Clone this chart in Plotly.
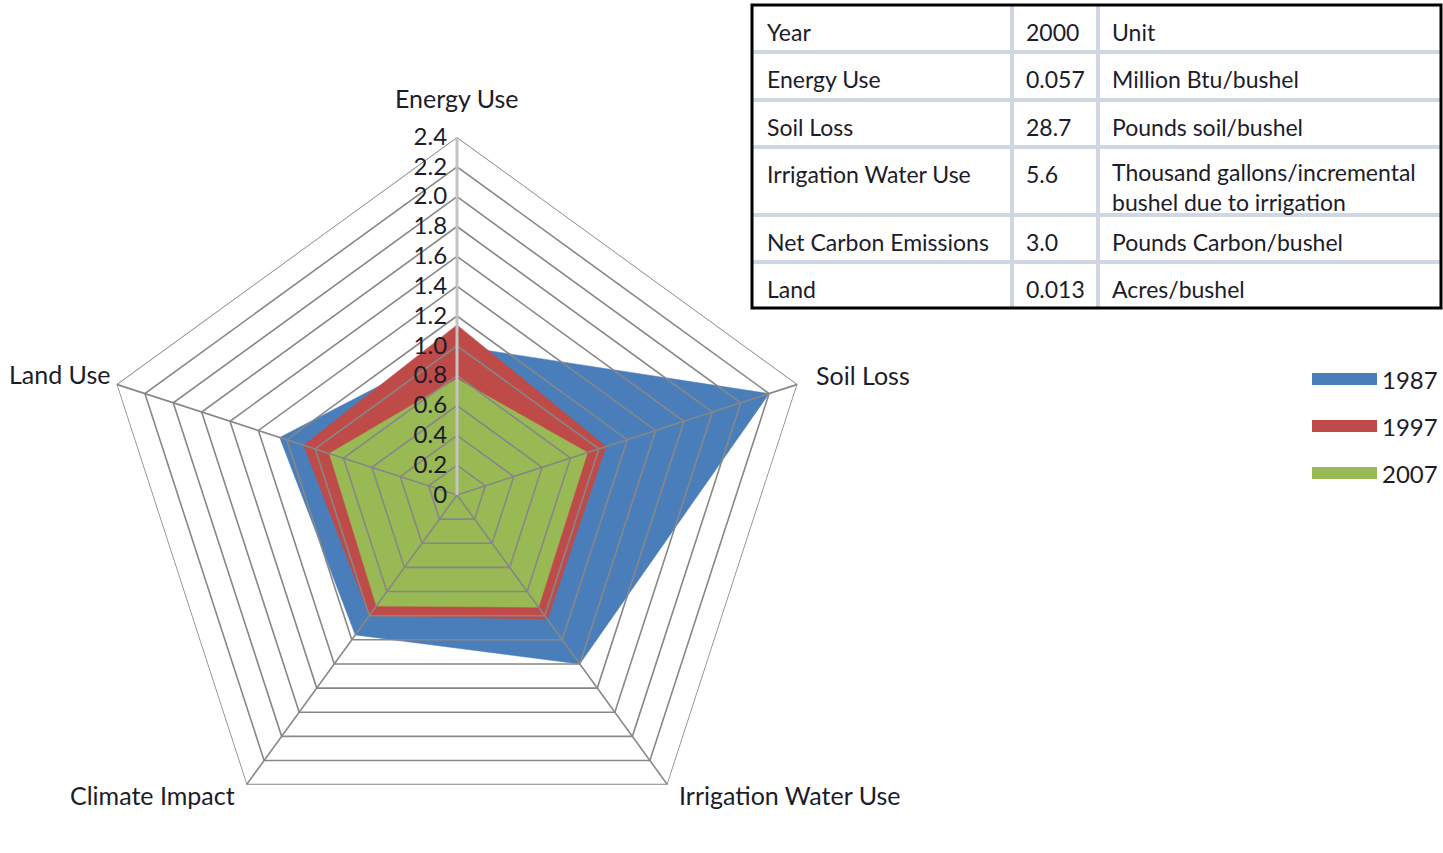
import math
import plotly.graph_objects as go

# Radar axes and series (index relative to year 2000 = 1.0)
categories = ["Energy Use", "Soil Loss", "Irrigation Water Use", "Climate Impact", "Land Use"]
years = ["1987", "1997", "2007"]
values_1987 = [1.00, 2.20, 1.40, 1.16, 1.25]
values_1997 = [1.14, 1.05, 1.03, 1.00, 1.08]
values_2007 = [0.78, 0.92, 0.93, 0.92, 0.90]
series = [values_1987, values_1997, values_2007]
colors = ["#4A7EBB", "#BE4B48", "#98B954"]

radial_ticks = [0, 0.2, 0.4, 0.6, 0.8, 1.0, 1.2, 1.4, 1.6, 1.8, 2.0, 2.2, 2.4]
radial_tick_text = ["0", "0.2", "0.4", "0.6", "0.8", "1.0", "1.2", "1.4",
                    "1.6", "1.8", "2.0", "2.2", "2.4"]

# Reference-year table (first row is the heading)
table_indicator = ["Year", "Energy Use", "Soil Loss", "Irrigation Water Use",
                   "Net Carbon Emissions", "Land"]
table_value = ["2000", "0.057", "28.7", "5.6", "3.0", "0.013"]
table_unit = ["Unit", "Million Btu/bushel", "Pounds soil/bushel",
              "Thousand gallons/incremental<br>bushel due to irrigation",
              "Pounds Carbon/bushel", "Acres/bushel"]

W, H = 1443, 853
FONT = "Lato"
TEXT = "#1c1c2a"
GRID = "#878787"

fig = go.Figure()

# filled polygons, largest first so smaller ones sit on top
for name, vals, col in zip(years, series, colors):
    fig.add_trace(go.Scatterpolar(
        r=vals + vals[:1], theta=categories + categories[:1],
        mode="lines", fill="toself", fillcolor=col,
        line=dict(color=col, width=0.5),
        name=name, showlegend=False, hoverinfo="skip",
    ))

# web grid drawn over the fills: one ring per radial tick, one spoke per category
ring_r, ring_t = [], []
for t in radial_ticks[1:]:
    ring_r += [t] * (len(categories) + 1) + [None]
    ring_t += categories + categories[:1] + [None]
spoke_r, spoke_t = [], []
for c in categories:
    spoke_r += [0, radial_ticks[-1], None]
    spoke_t += [c, c, None]
fig.add_trace(go.Scatterpolar(r=ring_r, theta=ring_t, mode="lines",
                              line=dict(color=GRID, width=1.6),
                              showlegend=False, hoverinfo="skip"))
fig.add_trace(go.Scatterpolar(r=spoke_r, theta=spoke_t, mode="lines",
                              line=dict(color=GRID, width=1.6),
                              showlegend=False, hoverinfo="skip"))

# polar placement in pixels (centre and outer radius)
R = 358
cx, cy = 457, 495

shapes = []
annotations = []

# category labels placed just outside each outer vertex
label_offsets = [(0, -39, "center"), (17, -9, "left"), (10, 10, "left"),
                 (-10, 10, "right"), (-5, -10, "right")]
for k, (cat, (dx, dy, anchor)) in enumerate(zip(categories, label_offsets)):
    ang = math.radians(90 - 72 * k)
    vx = cx + R * math.cos(ang)
    vy = cy - R * math.sin(ang)
    annotations.append(dict(
        x=(vx + dx) / W, y=1 - (vy + dy) / H, xref="paper", yref="paper",
        xanchor=anchor, yanchor="middle", text=cat, showarrow=False,
        font=dict(family=FONT, size=25, color=TEXT)))

# table drawn as ruled boxes with text
row_edges = [5, 52, 100, 147, 215, 262, 308]
col_edges = [752, 1012, 1098, 1441]
col_text_x = [765, 1024, 1110]
RULE = "#cfd6e4"
for y in row_edges[1:-1]:
    shapes.append(dict(type="line", xref="paper", yref="paper",
                       x0=col_edges[0] / W, x1=col_edges[-1] / W,
                       y0=1 - y / H, y1=1 - y / H,
                       line=dict(color=RULE, width=4)))
for x in col_edges[1:-1]:
    shapes.append(dict(type="line", xref="paper", yref="paper",
                       x0=x / W, x1=x / W,
                       y0=1 - row_edges[0] / H, y1=1 - row_edges[-1] / H,
                       line=dict(color=RULE, width=4)))
shapes.append(dict(type="rect", xref="paper", yref="paper",
                   x0=col_edges[0] / W, x1=col_edges[-1] / W,
                   y0=1 - row_edges[-1] / H, y1=1 - row_edges[0] / H,
                   line=dict(color="black", width=3)))

for i in range(len(table_indicator)):
    for j, col_vals in enumerate([table_indicator, table_value, table_unit]):
        text = col_vals[i]
        n_lines = text.count("<br>") + 1
        annotations.append(dict(
            x=col_text_x[j] / W, y=1 - (row_edges[i] + 27 + 13 * (n_lines - 1)) / H,
            xref="paper", yref="paper", xanchor="left", yanchor="middle",
            align="left", text=text, showarrow=False,
            font=dict(family=FONT, size=23, color=TEXT)))

# legend: thick colour bars with year labels
legend_y = [379, 426, 473]
for name, col, y in zip(years, colors, legend_y):
    shapes.append(dict(type="line", xref="paper", yref="paper",
                       x0=1312 / W, x1=1377 / W, y0=1 - y / H, y1=1 - y / H,
                       line=dict(color=col, width=12)))
    annotations.append(dict(x=1380 / W, y=1 - y / H, xref="paper", yref="paper",
                            xanchor="left", yanchor="middle", text=name,
                            showarrow=False,
                            font=dict(family=FONT, size=24, color=TEXT)))

fig.update_layout(
    width=W, height=H,
    margin=dict(l=0, r=0, t=0, b=0),
    paper_bgcolor="white",
    font=dict(family=FONT, color=TEXT),
    showlegend=False,
    polar=dict(
        domain=dict(x=[(cx - R) / W, (cx + R) / W],
                    y=[max(0, (H - cy - R) / H), (H - cy + R) / H]),
        gridshape="linear",
        bgcolor="white",
        radialaxis=dict(
            range=[0, 2.4], tickvals=radial_ticks, ticktext=radial_tick_text,
            angle=90, side="counterclockwise", tickangle=90,
            showline=True, linecolor="#c4c4c4", linewidth=3,
            showgrid=False, ticks="",
            layer="above traces",
            tickfont=dict(family=FONT, size=24, color=TEXT),
        ),
        angularaxis=dict(
            rotation=90, direction="clockwise",
            showline=False, showgrid=False, ticks="",
            showticklabels=False,
        ),
    ),
    shapes=shapes,
    annotations=annotations,
)

fig.write_html("out.html")
